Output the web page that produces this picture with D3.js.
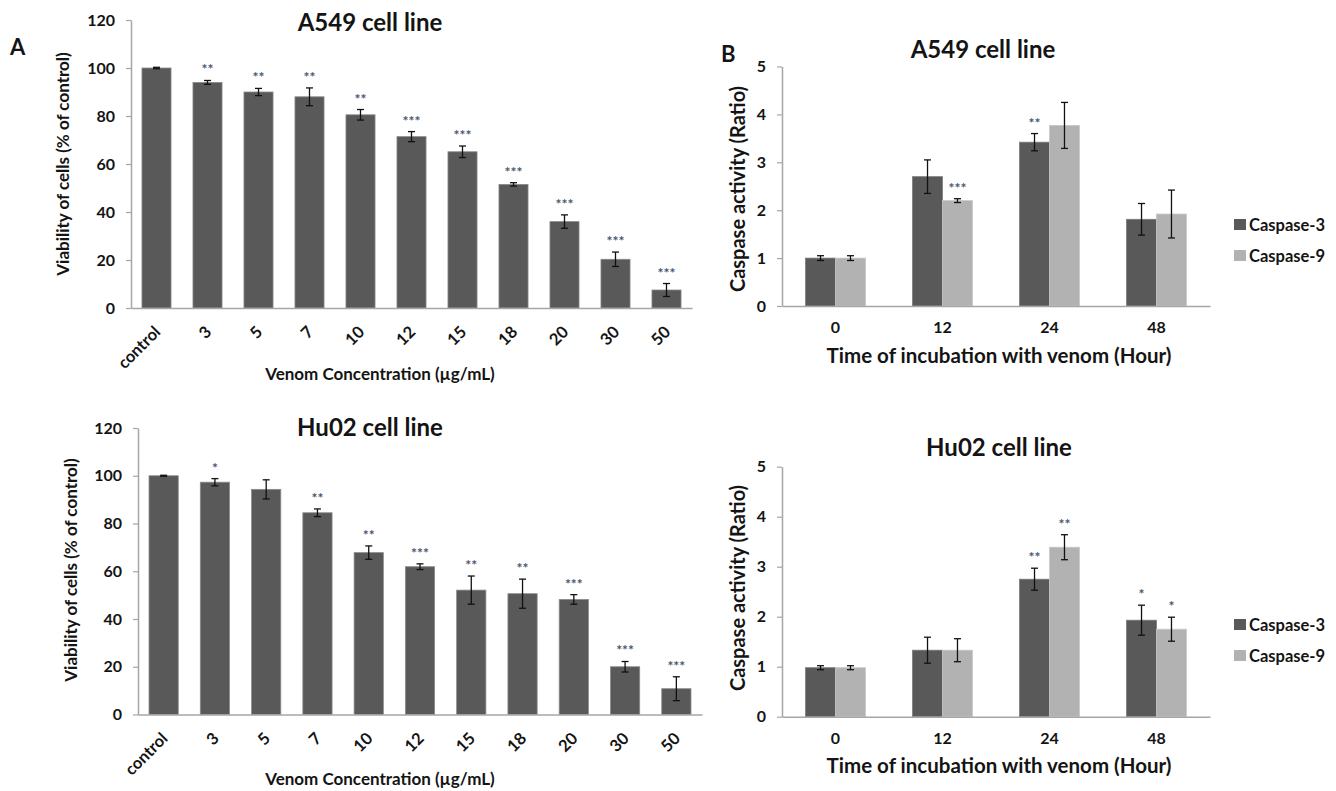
<!DOCTYPE html>
<html>
<head>
<meta charset="utf-8">
<script src="https://cdn.jsdelivr.net/npm/d3@7/dist/d3.min.js"></script>
<style>
  html, body { margin: 0; padding: 0; background: #fff; }
  svg { display: block; }
  text { font-family: Lato, "Open Sans", "DejaVu Sans", sans-serif; font-weight: bold; }
</style>
</head>
<body>
<svg id="chart" width="1336" height="791"></svg>
<script>
// ---------------- DATA ----------------
const concCategories = ["control", "3", "5", "7", "10", "12", "15", "18", "20", "30", "50"];
const viabilityTicks = [0, 20, 40, 60, 80, 100, 120];

const a549Viability    = [100, 94, 90, 88, 80.5, 71.4, 65.1, 51.5, 36, 20.3, 7.5];
const a549ViabilityErr = [0.3, 0.8, 1.5, 3.7, 2.2, 2.1, 2.4, 0.7, 2.8, 3.0, 2.7];
const a549ViabilitySig = ["", "**", "**", "**", "**", "***", "***", "***", "***", "***", "***"];

const hu02Viability    = [100, 97.3, 94.3, 84.5, 67.8, 61.9, 52.1, 50.6, 48.2, 20.0, 10.8];
const hu02ViabilityErr = [0.2, 1.5, 4.0, 1.6, 2.8, 1.2, 5.9, 6.1, 2.0, 2.2, 5.0];
const hu02ViabilitySig = ["", "*", "", "**", "**", "***", "**", "**", "***", "***", "***"];

const timeCategories = ["0", "12", "24", "48"];
const caspaseSeries = ["Caspase-3", "Caspase-9"];
const caspaseTicks = [0, 1, 2, 3, 4, 5];

const a549Casp3    = [1.0, 2.7, 3.42, 1.81];
const a549Casp3Err = [0.05, 0.35, 0.18, 0.33];
const a549Casp3Sig = ["", "", "**", ""];
const a549Casp9    = [1.0, 2.2, 3.77, 1.92];
const a549Casp9Err = [0.05, 0.04, 0.48, 0.5];
const a549Casp9Sig = ["", "***", "", ""];

const hu02Casp3    = [0.98, 1.33, 2.75, 1.93];
const hu02Casp3Err = [0.04, 0.26, 0.22, 0.3];
const hu02Casp3Sig = ["", "", "**", "*"];
const hu02Casp9    = [0.98, 1.33, 3.39, 1.75];
const hu02Casp9Err = [0.04, 0.23, 0.25, 0.24];
const hu02Casp9Sig = ["", "", "**", "*"];

// ---------------- STYLE ----------------
const DARK = "#595959";
const LIGHT = "#b2b2b2";
const AXIS = "#a6a6a6";
const TXT = "#141414";
const STAR = "#4a5570";

const svg = d3.select("#chart");

function styleYAxis(g, fs) {
  g.select(".domain").attr("stroke", AXIS).attr("stroke-width", 1.5);
  g.selectAll(".tick line").attr("stroke", AXIS).attr("stroke-width", 1.2);
  g.selectAll(".tick text").attr("fill", TXT).style("font-size", fs + "px").style("font-weight", "bold")
    .style("font-family", "Lato, sans-serif");
}
function styleXAxis(g, fs) {
  g.select(".domain").attr("stroke", AXIS).attr("stroke-width", 1.5);
  g.selectAll(".tick text").attr("fill", TXT).style("font-size", fs + "px").style("font-weight", "bold")
    .style("font-family", "Lato, sans-serif");
}

function errBar(g, cx, yTop, yBot, capW) {
  g.append("line").attr("x1", cx).attr("x2", cx).attr("y1", yTop).attr("y2", yBot)
    .attr("stroke", "#111").attr("stroke-width", 1.3);
  g.append("line").attr("x1", cx - capW / 2).attr("x2", cx + capW / 2).attr("y1", yTop).attr("y2", yTop)
    .attr("stroke", "#111").attr("stroke-width", 1.3);
  g.append("line").attr("x1", cx - capW / 2).attr("x2", cx + capW / 2).attr("y1", yBot).attr("y2", yBot)
    .attr("stroke", "#111").attr("stroke-width", 1.3);
}

function star(g, cx, yTop, s) {
  if (!s) return;
  g.append("text").attr("x", cx).attr("y", yTop - 3).attr("text-anchor", "middle")
    .attr("fill", STAR).style("font-size", "14px").style("font-weight", "bold").text(s);
}

// ---------------- VIABILITY PANELS (A) ----------------
function viabilityPanel(cfg) {
  const g = svg.append("g");
  const x = d3.scaleBand().domain(concCategories).range(cfg.xRange)
    .paddingInner(0.43).paddingOuter(0.215);
  const y = d3.scaleLinear().domain([0, 120]).range(cfg.yRange);

  g.selectAll("rect.bar").data(concCategories).join("rect")
    .attr("x", d => x(d)).attr("width", x.bandwidth())
    .attr("y", (d, i) => y(cfg.values[i]))
    .attr("height", (d, i) => y(0) - y(cfg.values[i]))
    .attr("fill", DARK).attr("stroke", "#8a8a8a").attr("stroke-width", 0.8);

  concCategories.forEach((d, i) => {
    const cx = x(d) + x.bandwidth() / 2;
    const v = cfg.values[i], e = cfg.errors[i];
    errBar(g, cx, y(v + e), y(v - e), 7);
    star(g, cx, y(v + e) - 3, cfg.sig[i]);
  });

  const yAx = g.append("g").attr("transform", `translate(${cfg.xRange[0]},0)`)
    .call(d3.axisLeft(y).tickValues(viabilityTicks).tickSize(5).tickSizeOuter(0).tickPadding(11));
  styleYAxis(yAx, 16);

  const xAx = g.append("g").attr("transform", `translate(0,${y(0)})`)
    .call(d3.axisBottom(x).tickSize(0).tickSizeOuter(0));
  styleXAxis(xAx, 16.5);
  xAx.selectAll(".tick text")
    .attr("x", 0).attr("y", 0).attr("dy", null)
    .attr("text-anchor", "end")
    .attr("transform", "translate(5,25) rotate(-45)");

  g.append("text").attr("x", cfg.titleX).attr("y", cfg.titleY).attr("text-anchor", "middle")
    .attr("fill", TXT).style("font-size", "24px").text(cfg.title);
  g.append("text").attr("x", cfg.xTitleX).attr("y", cfg.xTitleY).attr("text-anchor", "middle")
    .attr("fill", TXT).style("font-size", "17px").text("Venom Concentration (µg/mL)");
  g.append("text").attr("transform", `translate(${cfg.yTitleX},${cfg.yTitleY}) rotate(-90)`)
    .attr("text-anchor", "middle").attr("fill", TXT).style("font-size", "17px")
    .text("Viability of cells (% of control)");
}

viabilityPanel({
  xRange: [131, 692], yRange: [308, 20],
  values: a549Viability, errors: a549ViabilityErr, sig: a549ViabilitySig,
  title: "A549 cell line", titleX: 370, titleY: 31,
  xTitleX: 380, xTitleY: 380, yTitleX: 69, yTitleY: 164
});
viabilityPanel({
  xRange: [138, 702], yRange: [714.5, 428],
  values: hu02Viability, errors: hu02ViabilityErr, sig: hu02ViabilitySig,
  title: "Hu02 cell line", titleX: 370, titleY: 436,
  xTitleX: 380, xTitleY: 785, yTitleX: 77, yTitleY: 570
});

// ---------------- CASPASE PANELS (B) ----------------
function caspasePanel(cfg) {
  const g = svg.append("g");
  const x0 = d3.scaleBand().domain(timeCategories).range(cfg.xRange)
    .paddingInner(0.44).paddingOuter(0.22);
  const x1 = d3.scaleBand().domain(caspaseSeries).range([0, x0.bandwidth()]);
  const y = d3.scaleLinear().domain([0, 5]).range(cfg.yRange);
  const color = d3.scaleOrdinal().domain(caspaseSeries).range([DARK, LIGHT]);

  const series = [
    { name: caspaseSeries[0], vals: cfg.c3, errs: cfg.c3e, sig: cfg.c3s },
    { name: caspaseSeries[1], vals: cfg.c9, errs: cfg.c9e, sig: cfg.c9s }
  ];

  series.forEach(s => {
    g.selectAll(null).data(timeCategories).join("rect")
      .attr("x", d => x0(d) + x1(s.name)).attr("width", x1.bandwidth())
      .attr("y", (d, i) => y(s.vals[i]))
      .attr("height", (d, i) => y(0) - y(s.vals[i]))
      .attr("fill", color(s.name)).attr("stroke", s.name === caspaseSeries[0] ? "#7a7a7a" : "#c8c8c8")
      .attr("stroke-width", 0.8);
  });
  series.forEach(s => {
    timeCategories.forEach((d, i) => {
      const cx = x0(d) + x1(s.name) + x1.bandwidth() / 2;
      const v = s.vals[i], e = s.errs[i];
      errBar(g, cx, y(v + e), y(v - e), 7);
      star(g, cx, y(v + e) - 3, s.sig[i]);
    });
  });

  const yAx = g.append("g").attr("transform", `translate(${cfg.xRange[0]},0)`)
    .call(d3.axisLeft(y).tickValues(caspaseTicks).tickFormat(d3.format("d"))
      .tickSize(5).tickSizeOuter(0).tickPadding(11));
  styleYAxis(yAx, 16);
  const xAx = g.append("g").attr("transform", `translate(0,${y(0)})`)
    .call(d3.axisBottom(x0).tickSize(0).tickSizeOuter(0).tickPadding(16));
  styleXAxis(xAx, 16);

  g.append("text").attr("x", cfg.titleX).attr("y", cfg.titleY).attr("text-anchor", "middle")
    .attr("fill", TXT).style("font-size", "24px").text(cfg.title);
  g.append("text").attr("x", 999).attr("y", cfg.xTitleY).attr("text-anchor", "middle")
    .attr("fill", TXT).style("font-size", "20.5px").text("Time of incubation with venom (Hour)");
  g.append("text").attr("transform", `translate(${cfg.yTitleX},${cfg.yTitleY}) rotate(-90)`)
    .attr("text-anchor", "middle").attr("fill", TXT).style("font-size", "20px")
    .text("Caspase activity (Ratio)");

  const lg = g.append("g").attr("transform", `translate(1234,${cfg.legendY})`);
  caspaseSeries.forEach((name, i) => {
    lg.append("rect").attr("x", 0).attr("y", i * 31 - 6).attr("width", 12).attr("height", 11)
      .attr("fill", color(name));
    lg.append("text").attr("x", 15).attr("y", i * 31 + 5.5).attr("fill", TXT)
      .style("font-size", "16.5px").text(name);
  });
}

caspasePanel({
  xRange: [782, 1210], yRange: [306, 66.5],
  c3: a549Casp3, c3e: a549Casp3Err, c3s: a549Casp3Sig,
  c9: a549Casp9, c9e: a549Casp9Err, c9s: a549Casp9Sig,
  title: "A549 cell line", titleX: 983, titleY: 58,
  xTitleY: 363, yTitleX: 745, yTitleY: 189, legendY: 225
});
caspasePanel({
  xRange: [782, 1210], yRange: [716.7, 466.7],
  c3: hu02Casp3, c3e: hu02Casp3Err, c3s: hu02Casp3Sig,
  c9: hu02Casp9, c9e: hu02Casp9Err, c9s: hu02Casp9Sig,
  title: "Hu02 cell line", titleX: 999, titleY: 456,
  xTitleY: 773, yTitleX: 745, yTitleY: 588, legendY: 625
});

svg.append("text").attr("x", 10).attr("y", 55).attr("fill", TXT).style("font-size", "22px").text("A");
svg.append("text").attr("x", 721).attr("y", 62).attr("fill", TXT).style("font-size", "22px").text("B");
</script>
</body>
</html>
